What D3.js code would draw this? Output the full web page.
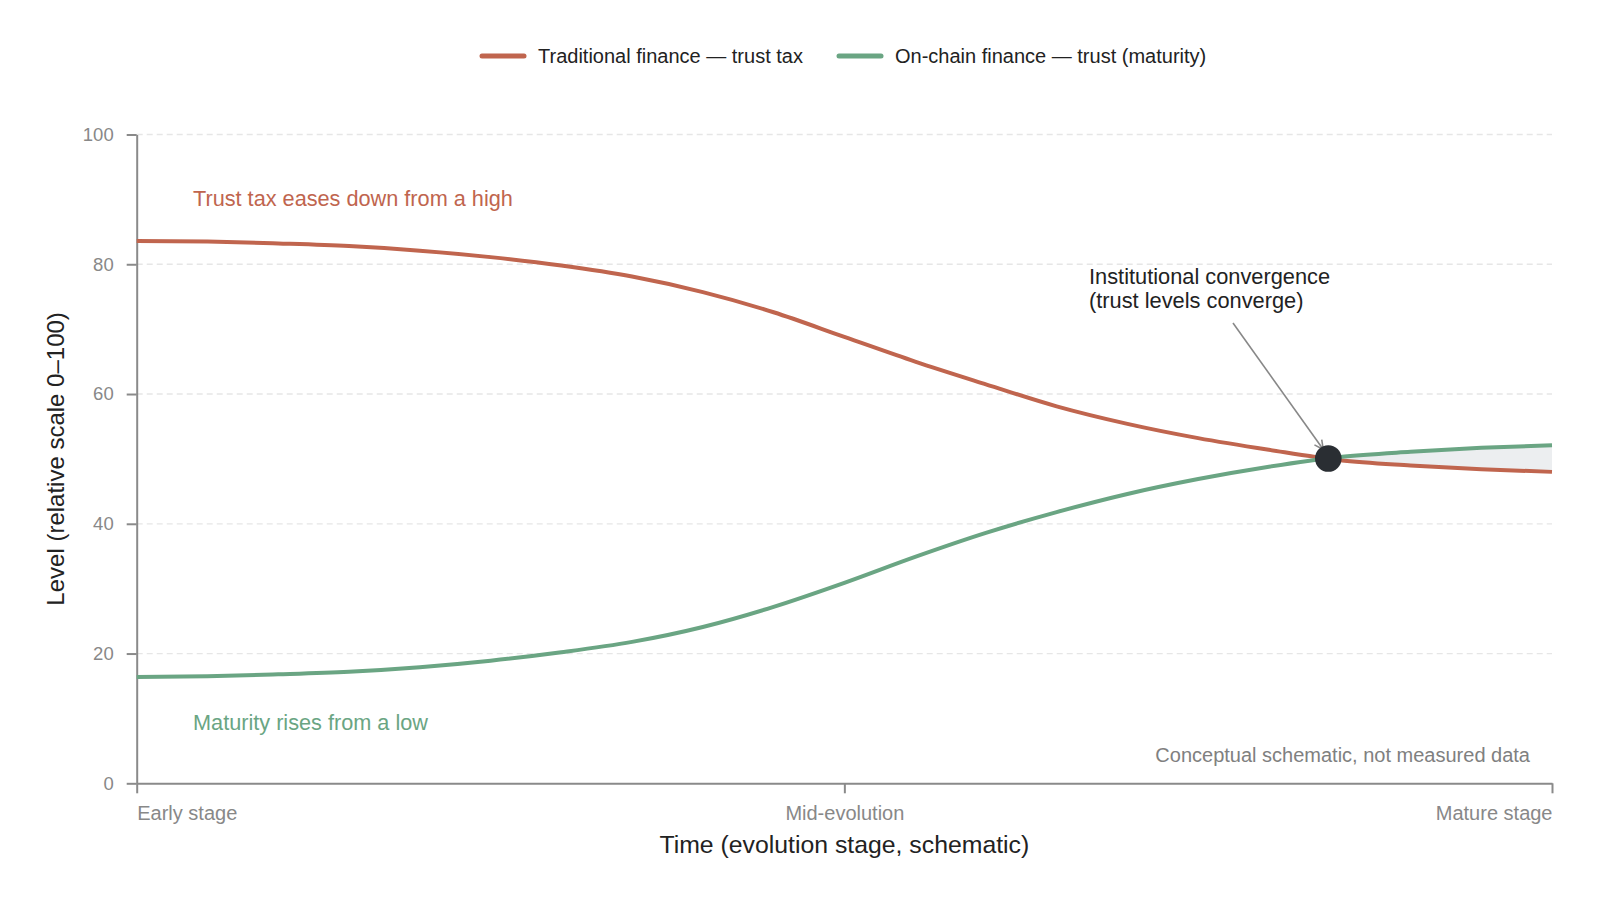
<!DOCTYPE html>
<html>
<head>
<meta charset="utf-8">
<script src="https://cdn.jsdelivr.net/npm/d3@7"></script>
<style>
  html, body { margin: 0; padding: 0; background: #fff; }
  svg { display: block; font-family: "Liberation Sans", Arial, Helvetica, sans-serif; }
</style>
</head>
<body>
<div id="chart"></div>
<script>
// Schematic stage positions (0 = early, 1 = mature)
const stages = [0, 0.05, 0.10, 0.15, 0.20, 0.25, 0.30, 0.35, 0.40, 0.45, 0.50,
                0.55, 0.60, 0.65, 0.70, 0.75, 0.80, 0.85, 0.90, 0.95, 1.00];

// Traditional finance — trust tax
const tradValues = [83.6, 83.5, 83.2, 82.8, 82.1, 81.1, 79.8, 78.1, 75.7, 72.6, 68.8,
                    65.0, 61.5, 58.1, 55.4, 53.2, 51.4, 49.8, 49.0, 48.4, 48.0];

// On-chain finance — trust (maturity)
const chainValues = [16.4, 16.5, 16.8, 17.2, 17.9, 18.9, 20.2, 21.8, 24.1, 27.2, 30.9,
                     34.9, 38.6, 41.8, 44.6, 46.9, 48.8, 50.3, 51.1, 51.7, 52.1];

const yTicks = [0, 20, 40, 60, 80, 100];
const xTicks = [0, 0.5, 1];
const xTickLabels = ["Early stage", "Mid-evolution", "Mature stage"];
const seriesNames = ["Traditional finance \u2014 trust tax", "On-chain finance \u2014 trust (maturity)"];

const RED = "#c0654e";
const GREEN = "#6aa583";

/************************************
 * Layout
 ************************************/
const w = 1600;
const h = 900;
const margin = { top: 134.5, right: 48, bottom: 116.7, left: 136.7 };

const svg = d3.select("#chart")
  .append("svg")
  .attr("width", w)
  .attr("height", h)
  .attr("viewBox", "0 0 " + w + " " + h);

const xScale = d3.scaleLinear()
  .domain([0, 1])
  .range([margin.left, w - margin.right]);

const yScale = d3.scaleLinear()
  .domain([0, 100])
  .range([h - margin.bottom, margin.top]);

const trad = stages.map((t, i) => ({ t: t, v: tradValues[i] }));
const chain = stages.map((t, i) => ({ t: t, v: chainValues[i] }));

// Gridlines
svg.append("g")
  .selectAll("line")
  .data(yTicks.filter(d => d > 0))
  .enter()
  .append("line")
  .attr("x1", xScale(0))
  .attr("x2", xScale(1))
  .attr("y1", d => yScale(d))
  .attr("y2", d => yScale(d))
  .attr("stroke", "#e6e6e6")
  .attr("stroke-width", 1.3)
  .attr("stroke-dasharray", "6,4");

// Crossing point of the two series
let cross = null;
for (let i = 1; i < stages.length; i++) {
  const d0 = tradValues[i - 1] - chainValues[i - 1];
  const d1 = tradValues[i] - chainValues[i];
  if (d0 > 0 && d1 <= 0) {
    const f = d0 / (d0 - d1);
    cross = {
      t: stages[i - 1] + f * (stages[i] - stages[i - 1]),
      v: tradValues[i - 1] + f * (tradValues[i] - tradValues[i - 1])
    };
    break;
  }
}

// Shaded gap after convergence
const gap = [{ t: cross.t, lo: cross.v, hi: cross.v }]
  .concat(stages.map((t, i) => ({ t: t, lo: tradValues[i], hi: chainValues[i] }))
    .filter(d => d.t > cross.t));

svg.append("path")
  .datum(gap)
  .attr("fill", "#eceef0")
  .attr("d", d3.area()
    .x(d => xScale(d.t))
    .y0(d => yScale(d.lo))
    .y1(d => yScale(d.hi))
    .curve(d3.curveMonotoneX));

// Axes
const yAxis = d3.axisLeft(yScale)
  .tickValues(yTicks)
  .tickSize(10)
  .tickSizeOuter(0)
  .tickPadding(13);

const xAxis = d3.axisBottom(xScale)
  .tickValues(xTicks)
  .tickFormat((d, i) => xTickLabels[i])
  .tickSize(10)
  .tickSizeOuter(0)
  .tickPadding(13);

const gy = svg.append("g")
  .attr("transform", "translate(" + margin.left + ",0)")
  .call(yAxis);

const gx = svg.append("g")
  .attr("transform", "translate(0," + (h - margin.bottom) + ")")
  .call(xAxis);

[gx, gy].forEach(g => {
  g.select(".domain").attr("stroke", "#8a8a8a").attr("stroke-width", 2);
  g.selectAll(".tick line").attr("stroke", "#8a8a8a").attr("stroke-width", 2);
  g.selectAll(".tick text")
    .attr("fill", "#888")
    .style("font-size", "20px")
    .style("font-family", "'Liberation Sans', Arial, sans-serif");
});
gy.selectAll(".tick text").style("font-size", "18.5px");
gx.selectAll(".tick text")
  .attr("text-anchor", (d, i) => i === 0 ? "start" : (i === xTicks.length - 1 ? "end" : "middle"));

// Axis titles
svg.append("text")
  .attr("transform", "translate(" + 64 + "," + yScale(50) + ") rotate(-90)")
  .attr("text-anchor", "middle")
  .attr("fill", "#222")
  .style("font-size", "24px")
  .text("Level (relative scale 0\u2013100)");

svg.append("text")
  .attr("x", xScale(0.5))
  .attr("y", 853)
  .attr("text-anchor", "middle")
  .attr("fill", "#222")
  .style("font-size", "24.8px")
  .text("Time (evolution stage, schematic)");

// Lines
const line = d3.line()
  .x(d => xScale(d.t))
  .y(d => yScale(d.v))
  .curve(d3.curveMonotoneX);

svg.append("path")
  .datum(trad)
  .attr("fill", "none")
  .attr("stroke", RED)
  .attr("stroke-width", 4)
  .attr("d", line);

svg.append("path")
  .datum(chain)
  .attr("fill", "none")
  .attr("stroke", GREEN)
  .attr("stroke-width", 4)
  .attr("d", line);

// Convergence marker + annotation
svg.append("defs")
  .append("marker")
  .attr("id", "arrow")
  .attr("viewBox", "0 0 10 10")
  .attr("refX", 9)
  .attr("refY", 5)
  .attr("markerWidth", 7)
  .attr("markerHeight", 7)
  .attr("orient", "auto")
  .append("path")
  .attr("d", "M1,1 L9,5 L1,9")
  .attr("fill", "none")
  .attr("stroke", "#888")
  .attr("stroke-width", 1.4);

svg.append("line")
  .attr("x1", 1233)
  .attr("y1", 323)
  .attr("x2", xScale(cross.t) - 5)
  .attr("y2", yScale(cross.v) - 9)
  .attr("stroke", "#888")
  .attr("stroke-width", 1.6)
  .attr("marker-end", "url(#arrow)");

svg.append("circle")
  .attr("cx", xScale(cross.t))
  .attr("cy", yScale(cross.v))
  .attr("r", 13.3)
  .attr("fill", "#2a2e33");

const note = svg.append("text")
  .attr("x", 1089)
  .attr("y", 284)
  .attr("fill", "#222")
  .style("font-size", "21.8px");
note.append("tspan").text("Institutional convergence");
note.append("tspan").attr("x", 1089).attr("dy", 23.5).text("(trust levels converge)");

// Series annotations
svg.append("text")
  .attr("x", 193)
  .attr("y", 206)
  .attr("fill", RED)
  .style("font-size", "21.7px")
  .text("Trust tax eases down from a high");

svg.append("text")
  .attr("x", 193)
  .attr("y", 730)
  .attr("fill", GREEN)
  .style("font-size", "21.7px")
  .text("Maturity rises from a low");

svg.append("text")
  .attr("x", 1530)
  .attr("y", 762)
  .attr("text-anchor", "end")
  .attr("fill", "#808080")
  .style("font-size", "20px")
  .text("Conceptual schematic, not measured data");

// Legend
const legend = svg.append("g");
const legendItems = [
  { name: seriesNames[0], color: RED, x: 482 },
  { name: seriesNames[1], color: GREEN, x: 839 }
];
legendItems.forEach(d => {
  legend.append("line")
    .attr("x1", d.x)
    .attr("x2", d.x + 42)
    .attr("y1", 56)
    .attr("y2", 56)
    .attr("stroke", d.color)
    .attr("stroke-width", 5)
    .attr("stroke-linecap", "round");
  legend.append("text")
    .attr("x", d.x + 56)
    .attr("y", 63)
    .attr("fill", "#222")
    .style("font-size", "20px")
    .text(d.name);
});
</script>
</body>
</html>
